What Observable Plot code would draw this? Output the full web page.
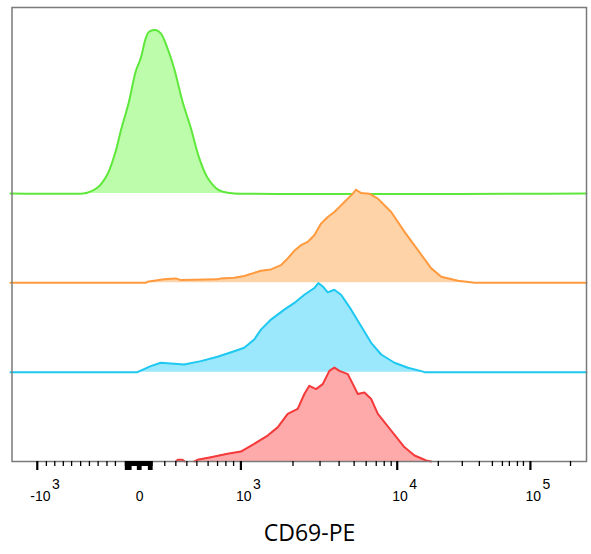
<!DOCTYPE html>
<html><head><meta charset="utf-8">
<script src="https://cdn.jsdelivr.net/npm/d3@7"></script>
<script src="https://cdn.jsdelivr.net/npm/@observablehq/plot@0.6"></script>
<style>body{margin:0;background:#fff}</style>
</head><body><div id="chart"></div>
<script>
// Display channel (0-1024, biexponential CD69-PE scale) vs. normalized count, stacked with offset 100
const greenX = [0, 130, 136.6, 154.4, 172.2, 187.0, 195.9, 210.7, 222.6, 231.5, 240.4, 246.3, 258.2, 267.2, 279.1, 290.8, 305.8, 320.6, 335.4, 350.3, 368.1, 385.9, 397.2, 1024];
const greenY = [0, 0, 0.7, 6.2, 21.2, 47.2, 69.5, 102.9, 136.3, 151.2, 173.5, 180.9, 182.8, 179.0, 162.3, 140.0, 102.9, 73.1, 39.7, 17.4, 4.5, 0.7, 0, 0];

const orangeX = [0, 240.4, 243.5, 273.0, 293.9, 302.8, 368.1, 374.0, 397.7, 415.5, 433.3, 445.3, 463.1, 480.9, 492.8, 504.6, 516.5, 528.4, 534.3, 540.2, 552.1, 558.0, 564.0, 575.8, 587.7, 593.6, 599.7, 608.6, 614.4, 623.4, 638.1, 653.1, 676.8, 700.5, 724.3, 748.0, 765.8, 795.6, 825.1, 1024];
const orangeY = [0, 0, 1.1, 3.8, 4.9, 3.0, 3.8, 4.9, 5.6, 7.5, 11.1, 13.4, 14.9, 19.7, 27.2, 35.7, 42.0, 45.7, 49.5, 53.2, 66.2, 69.9, 73.6, 79.2, 86.6, 90.3, 94.1, 99.7, 104.1, 100.3, 99.7, 94.1, 79.2, 56.9, 36.5, 16.1, 6.7, 2.2, 0, 0];

const blueX = [0, 225.6, 249.3, 267.2, 308.6, 338.4, 368.1, 397.7, 415.5, 433.3, 445.3, 463.1, 486.7, 504.6, 522.4, 540.2, 547.3, 555.1, 564.0, 575.8, 587.7, 605.6, 623.4, 641.2, 659.0, 682.6, 706.5, 730.2, 736.1, 1024];
const blueY = [0, 0, 6.7, 10.5, 8.6, 12.3, 17.2, 23.4, 27.2, 36.5, 47.6, 58.8, 69.9, 77.4, 86.6, 94.1, 99.7, 95.9, 89.2, 92.2, 86.6, 69.9, 51.3, 32.8, 19.7, 10.5, 4.9, 1.1, 0, 0];

const redX = [293.9, 297.4, 305.8, 309.9, 318, 327, 332.5, 356.2, 385.9, 409.6, 433.3, 457.2, 475.0, 492.8, 510.6, 522.4, 531.3, 543.2, 555.1, 566.9, 575.8, 584.7, 599.7, 617.5, 629.2, 641.2, 653.1, 676.8, 700.5, 718.3, 739.1, 748.0];
const redY = [0, 1.9, 1.9, 0, null, 0, 1.9, 4.8, 8.6, 11.1, 19.7, 29.0, 38.2, 53.2, 58.8, 75.5, 84.7, 81.0, 86.6, 101.4, 105.1, 101.4, 97.8, 75.5, 77.3, 69.9, 53.2, 34.6, 15.9, 6.7, 1.1, 0];

const seriesNames = ["green", "orange", "blue", "red"];
const seriesOffsets = [300, 200, 100, 0];
const seriesStroke = ["#5fe83c", "#ff9a3e", "#1ec8f0", "#f43a3a"];
const seriesFill = ["#bdfcaa", "#ffd3a8", "#9be8fc", "#ffaaaa"];

// axis ticks (display channel positions) and labels
const majorTicks = [47.6, 229.7, 409.6, 687.5, 924.3];
const minorTicks = [63.8, 78.7, 93.9, 108.6, 124.7, 140.3, 155.8, 171.5, 186.5,
  274.3, 293.9, 313.5, 331.3, 351.3, 368.1, 382.9, 396.6,
  502.2, 550.3, 584.2, 610.9, 632.3, 650.2, 664.4, 676.8,
  760.5, 803.2, 833.5, 856.7, 874.5, 886.9, 901.2, 911.9, 995.6];
const zeroShortTicks = [204.8, 206.6, 208.4, 210.2, 211.9, 213.7, 215.5, 217.3, 219.1, 220.8, 222.6, 224.4, 226.2, 228.0, 229.7, 231.5, 233.3, 235.1, 236.9, 238.7, 240.4, 242.2, 244.0, 245.8, 247.6, 249.3, 251.1];
const zeroTallTicks = [204.8, 206.6, 208.4, 210.2, 211.9, 213.7, 226.2, 228.0, 229.7, 231.5, 245.8, 247.6, 249.3, 251.1];
const labelPos = [47.6, 229.7, 409.6, 687.5, 924.3];
const labelBase = ["-10", "0", "10", "10", "10"];
const labelExp = ["3", "", "3", "4", "5"];
const xTitle = "CD69-PE";

const xsAll = [greenX, orangeX, blueX, redX];
const ysAll = [greenY, orangeY, blueY, redY];

const marks = [];
seriesNames.forEach((name, k) => {
  const rows = xsAll[k].map((x, i) => ({
    x, y1: seriesOffsets[k],
    y2: ysAll[k][i] == null ? null : seriesOffsets[k] + ysAll[k][i]
  }));
  const curve = name === "green" ? "catmull-rom" : "linear";
  marks.push(Plot.areaY(rows, {x: "x", y1: "y1", y2: "y2", fill: seriesFill[k], curve}));
  marks.push(Plot.line(rows, {x: "x", y: "y2", stroke: seriesStroke[k], strokeWidth: 2, curve}));
});

const labels = labelPos.map((p, i) => ({pos: p, base: labelBase[i], exp: labelExp[i]}));
const neg = labels.filter(d => d.base.startsWith("-"));
const zero = labels.filter(d => d.base === "0");
const pos = labels.filter(d => d.base === "10");
const lf = "Liberation Sans, Arial, sans-serif";

marks.push(
  Plot.frame({stroke: "#7a7a7a", strokeWidth: 1.5, insetLeft: 1.5}),
  Plot.axisX(minorTicks, {anchor: "bottom", tickSize: 5, strokeWidth: 1.3, stroke: "#000", tickFormat: () => "", label: null}),
  Plot.axisX(zeroShortTicks, {anchor: "bottom", tickSize: 5, strokeWidth: 1.8, stroke: "#000", tickFormat: () => "", label: null}),
  Plot.axisX(zeroTallTicks, {anchor: "bottom", tickSize: 9, strokeWidth: 1.8, stroke: "#000", tickFormat: () => "", label: null}),
  Plot.axisX(majorTicks, {anchor: "bottom", tickSize: 9, strokeWidth: 2.2, stroke: "#000", tickFormat: () => "", label: null}),
  Plot.text(neg, {x: "pos", text: "base", frameAnchor: "bottom", dy: 39, dx: 13.3, textAnchor: "end", fontSize: 14, fontFamily: lf}),
  Plot.text(neg, {x: "pos", text: "exp", frameAnchor: "bottom", dy: 27, dx: 14.8, textAnchor: "start", fontSize: 14, fontFamily: lf}),
  Plot.text(zero, {x: "pos", text: "base", frameAnchor: "bottom", dy: 39, textAnchor: "middle", fontSize: 14, fontFamily: lf}),
  Plot.text(pos, {x: "pos", text: "base", frameAnchor: "bottom", dy: 39, dx: 10.6, textAnchor: "end", fontSize: 14, fontFamily: lf}),
  Plot.text(pos, {x: "pos", text: "exp", frameAnchor: "bottom", dy: 27, dx: 12, textAnchor: "start", fontSize: 14, fontFamily: lf}),
  Plot.text([xTitle], {text: d => d, frameAnchor: "bottom", dy: 79, dx: 11, fontSize: 23, fontFamily: "Open Sans, sans-serif"})
);

const chart = Plot.plot({
  width: 591,
  height: 554,
  marginLeft: 10,
  marginRight: 5,
  marginTop: 7,
  marginBottom: 93,
  x: {domain: [0, 1024], axis: null},
  y: {domain: [0, 508], axis: null},
  style: {background: "#fff", overflow: "visible"},
  marks
});
document.getElementById("chart").appendChild(chart);
</script>
</body></html>
